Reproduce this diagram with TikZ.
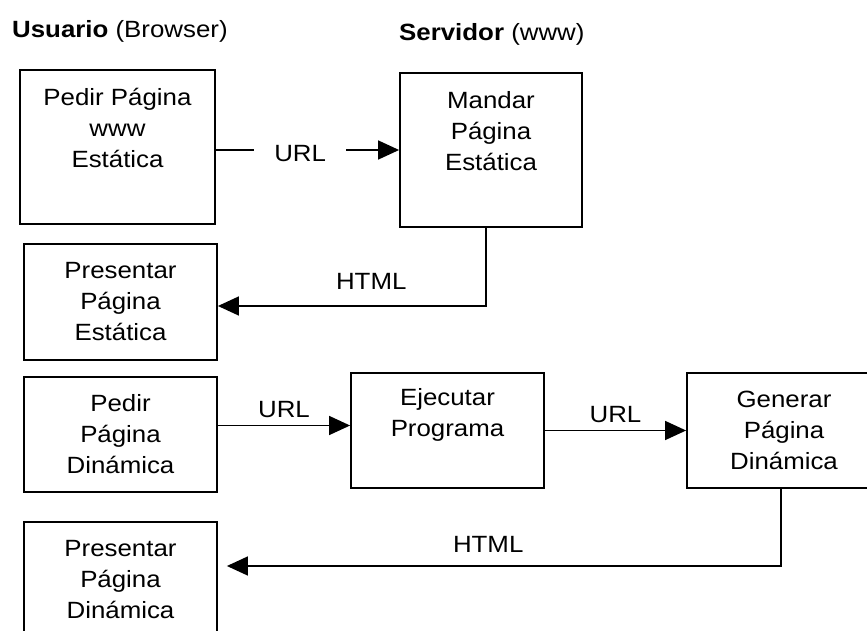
\documentclass[tikz,border=0pt]{standalone}
\usepackage{fontspec}
\setmainfont{Liberation Sans}[FakeStretch=1.1]
\usetikzlibrary{arrows.meta,positioning}

\begin{document}
\begin{tikzpicture}[
	x=1pt, y=-1pt,
	every node/.style = {font=\fontsize{23.5}{31}\selectfont, align=center},
	box/.style = {draw, line width=1.8pt, inner sep=0pt, minimum width=193pt, minimum height=115pt},
	txt/.style = {inner sep=0pt},
	lbl/.style = {inner sep=0pt},
	arr/.style = {line width=1.5pt, -{Triangle[length=21pt,width=19pt]}}
]
\clip (0,0) rectangle (867,631);
\node[txt, anchor=west] (user) at (12,31) {\textbf{Usuario} (Browser)};
\node[txt, anchor=west] (server) at (399,34) {\textbf{Servidor} (www)};

\node[box, minimum width=195pt, minimum height=154pt] (b1) at (117.5,147) {};
\node[txt] (t1) at (117.5,128) {Pedir Página\\www\\Estática};
\node[box, minimum width=182pt, minimum height=154pt] (b2) at (491,150) {};
\node[txt] (t2) at (491,131) {Mandar\\Página\\Estática};
\node[box, minimum height=116pt] (b3) at (120.5,302) {Presentar\\Página\\Estática};

\node[box] (b4) at (120.5,434.5) {Pedir\\Página\\Dinámica};
\node[box] (b5) at (447.5,430.5) {};
\node[txt] (t5) at (447.5,415) {Ejecutar\\Programa};
\node[box, minimum width=194pt] (b6) at (784,430.5) {Generar\\Página\\Dinámica};
\node[box, minimum height=116pt] (b7) at (120.5,580) {Presentar\\Página\\Dinámica};

\draw[arr] (b1.east |- b2.west) -- node[lbl, fill=white, inner xsep=20pt, pos=0.46, yshift=-4pt] {URL} (b2.west);
\draw[arr] ([xshift=-5pt]b2.south) |- node[lbl, above=16pt, pos=0.714] {HTML} ([yshift=-4pt]b3.east);
\draw[arr] ([yshift=9pt]b4.east) -- node[lbl, above=7pt] {URL} ([yshift=9pt]b4.east -| b5.west);
\draw[arr] (b5.east) -- node[lbl, above=7pt] {URL} (b6.west);
\draw[arr, shorten >=9pt] ([xshift=-3pt]b6.south) |- node[lbl, above=13pt, pos=0.76] {HTML} ([yshift=14pt]b7.east);
\end{tikzpicture}
\end{document}
